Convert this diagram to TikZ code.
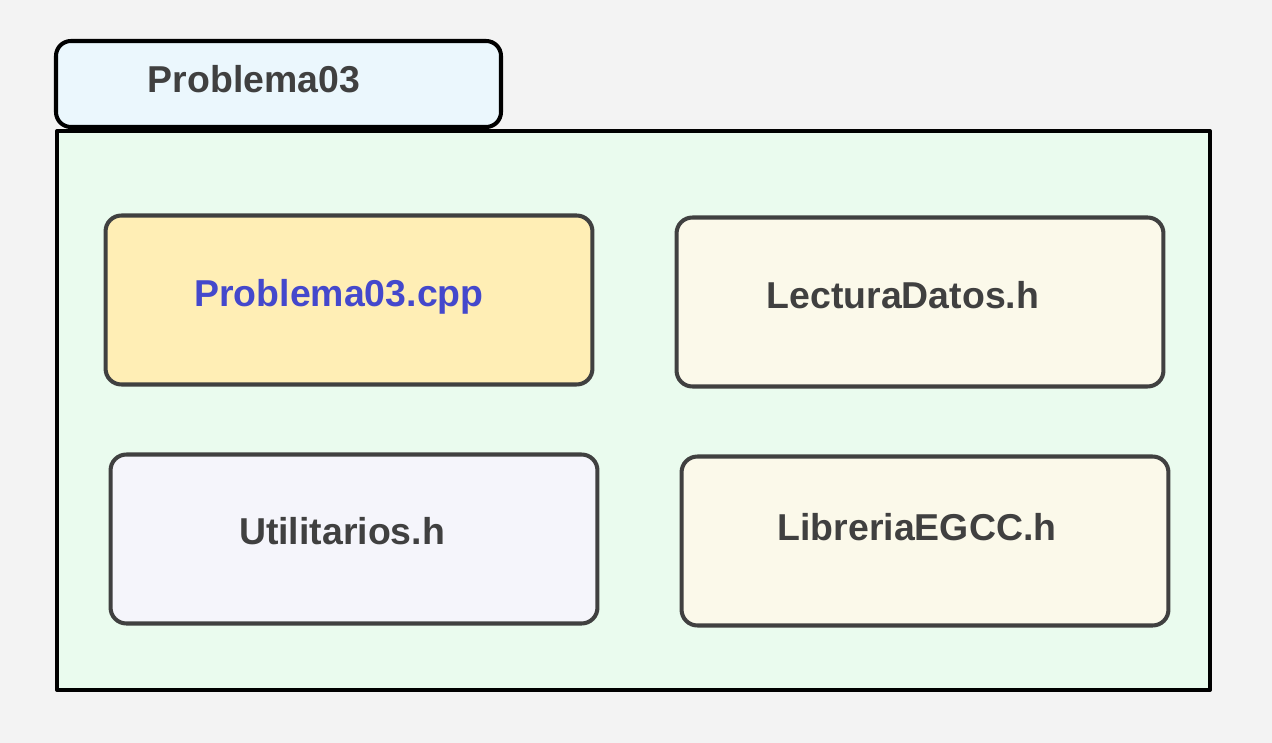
\documentclass[tikz,border=0pt]{standalone}
\usepackage{fontspec}
\setmainfont{Liberation Sans}
\definecolor{fondo}{HTML}{F3F3F3}
\definecolor{pestana}{HTML}{EBF7FD}
\definecolor{paquete}{HTML}{EAFBEE}
\definecolor{borde}{HTML}{404040}
\definecolor{cppfill}{HTML}{FFEEB5}
\definecolor{hfill}{HTML}{FBF9EA}
\definecolor{utilfill}{HTML}{F5F5FB}
\definecolor{azul}{HTML}{4448CC}
\tikzset{
  archivo/.style={draw=borde,line width=2.3pt,rounded corners=9pt,minimum width=9.74cm,minimum height=3.38cm,inner sep=0pt},
  etiqueta/.style={anchor=base,text=borde,inner sep=0pt}
}
\begin{document}
\begin{tikzpicture}[x=0.02cm,y=-0.02cm,font=\fontsize{21.3}{25}\selectfont\bfseries,line join=round]
	\fill[fondo] (0,0) rectangle (1272,743);
	% paquete
	\draw[line width=2.3pt,rounded corners=8.5pt,fill=pestana] (56,41) rectangle (501,127);
	\draw[line width=2.3pt,fill=paquete] (57,131) rectangle (1210,690);
	\node[etiqueta] (nombre) at (254,93) {Problema03};
	% archivos
	\node[archivo,fill=cppfill] (cpp) at (349,300) {};
	\node[archivo,fill=hfill] (lectura) at (920,302) {};
	\node[archivo,fill=utilfill] (util) at (354,539) {};
	\node[archivo,fill=hfill] (libreria) at (925,541) {};
	\node[etiqueta,text=azul] (cpptxt) at (339,307) {Problema03.cpp};
	\node[etiqueta] (lecturatxt) at (903,309) {LecturaDatos.h};
	\node[etiqueta] (utiltxt) at (342,544) {Utilitarios.h};
	\node[etiqueta] (libreriatxt) at (917,540) {LibreriaEGCC.h};
\end{tikzpicture}
\end{document}
